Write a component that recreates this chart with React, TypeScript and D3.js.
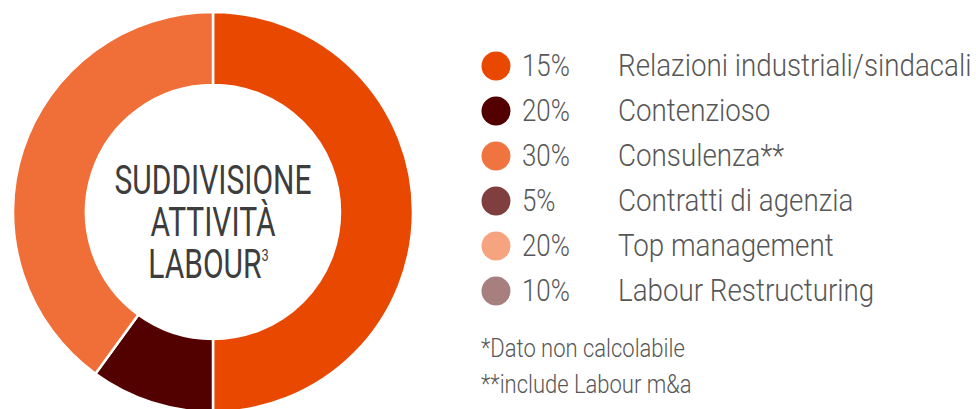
import React from "react";
import * as d3 from "d3";

// Donut slices as drawn
const sliceNames = ["Relazioni industriali/sindacali", "Contenzioso", "Consulenza**"];
const sliceValues = [50, 10, 40];
const sliceColors = ["#E94800", "#530000", "#F06E38"];

// Legend
const legendPercents = ["15%", "20%", "30%", "5%", "20%", "10%"];
const legendLabels = [
  "Relazioni industriali/sindacali",
  "Contenzioso",
  "Consulenza**",
  "Contratti di agenzia",
  "Top management",
  "Labour Restructuring",
];
const legendColors = ["#E94800", "#530000", "#F07440", "#7F3F3F", "#F6A380", "#A87F7F"];

const centerLines = ["SUDDIVISIONE", "ATTIVITÀ", "LABOUR"];
const footnotes = ["*Dato non calcolabile", "**include Labour m&a"];

const W = 976;
const H = 409;
const FONT = "Roboto, 'Noto Sans', sans-serif";

export default function App() {
  const cx = 213;
  const cy = 212;
  const pie = d3
    .pie<number>()
    .sort(null)
    .value((d) => d)
    .startAngle(0)
    .endAngle(2 * Math.PI);
  const arc = d3.arc<d3.PieArcDatum<number>>().innerRadius(127).outerRadius(200);
  const arcs = pie(sliceValues);

  const rowY = d3.scaleLinear().domain([0, 5]).range([76, 301]);

  return (
    <svg
      width={W}
      height={H}
      style={{ position: "absolute", left: 0, top: 0, background: "#fff" }}
    >
      <g transform={`translate(${cx},${cy})`}>
        {arcs.map((a, i) => (
          <path
            key={sliceNames[i]}
            d={arc(a) || ""}
            fill={sliceColors[i]}
            stroke="#fff"
            strokeWidth={2.5}
          />
        ))}
        <text
          transform={`translate(0,-18) scale(0.75,1)`}
          textAnchor="middle"
          fontFamily={FONT}
          fontWeight={400}
          fontSize={40}
          fill="#3D3D3D"
        >
          {centerLines.map((t, i) => (
            <tspan key={t} x={i === 2 ? -6 : 0} y={i * 42}>
              {t}
              {i === 2 && (
                <tspan fontSize={17} dy={-17}>
                  3
                </tspan>
              )}
            </tspan>
          ))}
        </text>
      </g>

      {legendLabels.map((lab, i) => {
        const y = rowY(i);
        return (
          <g key={lab}>
            <circle cx={496} cy={y - 10} r={14.5} fill={legendColors[i]} />
            <text
              transform={`translate(522,${y}) scale(0.81,1)`}
              fontFamily={FONT}
              fontWeight={300}
              fontSize={32}
              fill="#575757"
            >
              {legendPercents[i]}
            </text>
            <text
              transform={`translate(618,${y}) scale(0.868,1)`}
              fontFamily={FONT}
              fontWeight={300}
              fontSize={32}
              fill="#575757"
            >
              {lab}
            </text>
          </g>
        );
      })}

      {footnotes.map((f, i) => (
        <text
          key={f}
          transform={`translate(481,${357 + i * 36}) scale(0.88,1)`}
          fontFamily={FONT}
          fontWeight={300}
          fontSize={25}
          fill="#575757"
        >
          {f}
        </text>
      ))}
    </svg>
  );
}
